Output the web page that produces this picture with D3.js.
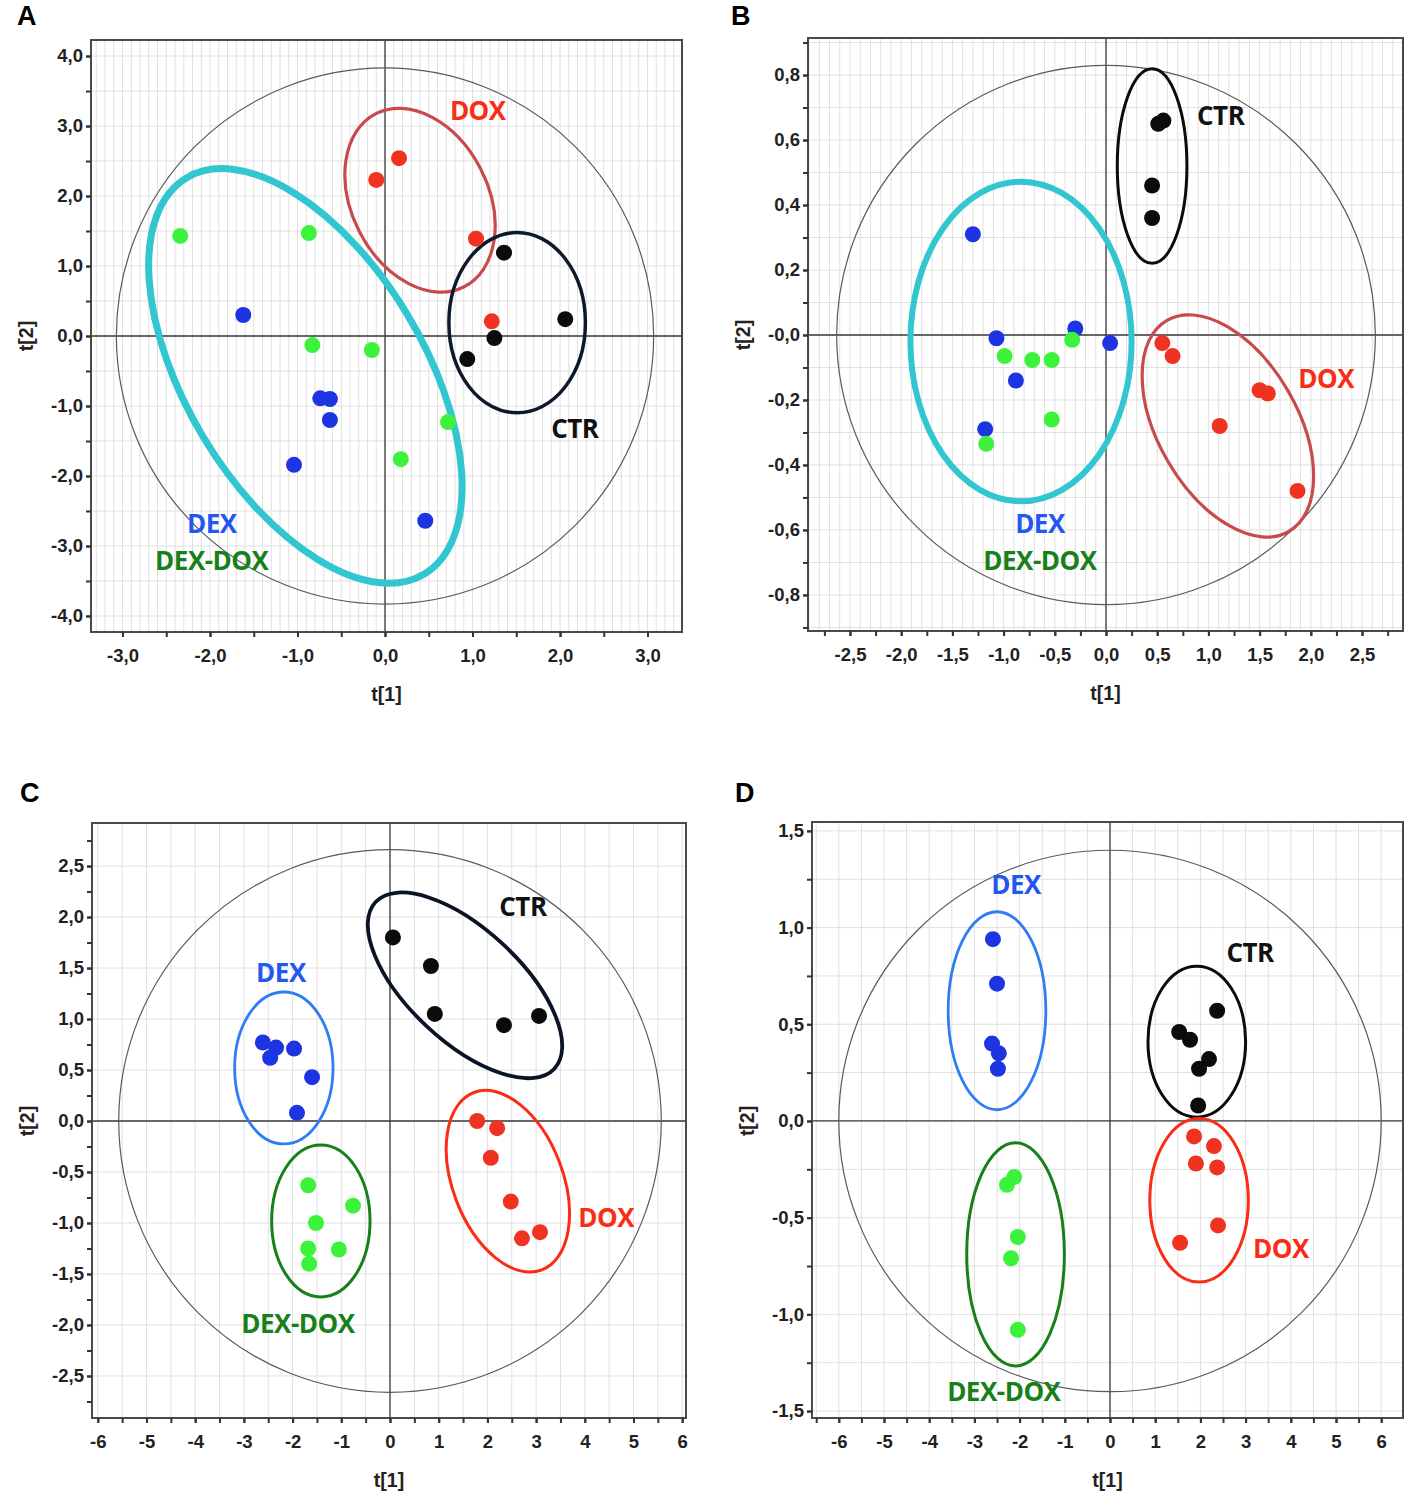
<!DOCTYPE html>
<html>
<head>
<meta charset="utf-8">
<script src="https://cdn.jsdelivr.net/npm/d3@7"></script>
<style>
  body { margin: 0; background: #fff; }
  svg { display: block; font-family: "Liberation Sans", Arial, sans-serif; }
</style>
</head>
<body>
<svg id="chart" width="1417" height="1503"></svg>
<script>
// score values t[1], t[2]
const aCTR = [[1.36, 1.19], [2.06, 0.24], [1.25, -0.03], [0.94, -0.33]];
const aDOX = [[-0.10, 2.23], [0.16, 2.54], [1.04, 1.39], [1.22, 0.21]];
const aDEX = [[-1.62, 0.30], [-0.74, -0.89], [-0.63, -0.90], [-0.63, -1.20], [-1.04, -1.84], [0.46, -2.64]];
const aDEXDOX = [[-2.34, 1.43], [-0.87, 1.47], [-0.83, -0.13], [-0.15, -0.20], [0.72, -1.23], [0.18, -1.76]];

const bCTR = [[0.56, 0.66], [0.51, 0.65], [0.45, 0.46], [0.45, 0.36]];
const bDOX = [[0.55, -0.025], [0.65, -0.065], [1.50, -0.17], [1.58, -0.18], [1.11, -0.28], [1.87, -0.48]];
const bDEX = [[-1.30, 0.31], [-1.07, -0.01], [-0.30, 0.02], [0.04, -0.025], [-0.88, -0.14], [-1.18, -0.29]];
const bDEXDOX = [[-0.99, -0.065], [-0.72, -0.077], [-0.53, -0.077], [-0.33, -0.015], [-0.53, -0.26], [-1.17, -0.335]];

const cCTR = [[0.06, 1.80], [0.84, 1.52], [0.92, 1.05], [2.34, 0.94], [3.06, 1.03]];
const cDOX = [[1.79, 0.00], [2.20, -0.07], [2.07, -0.36], [2.48, -0.79], [2.71, -1.15], [3.08, -1.09]];
const cDEX = [[-2.61, 0.77], [-2.34, 0.72], [-2.46, 0.62], [-1.97, 0.71], [-1.60, 0.43], [-1.91, 0.08]];
const cDEXDOX = [[-1.68, -0.63], [-0.76, -0.83], [-1.52, -1.00], [-1.05, -1.26], [-1.68, -1.25], [-1.66, -1.40]];

const dCTR = [[1.53, 0.46], [1.77, 0.42], [2.37, 0.57], [2.19, 0.32], [1.97, 0.27], [1.95, 0.08]];
const dDOX = [[1.86, -0.08], [2.30, -0.13], [1.90, -0.22], [2.37, -0.24], [2.39, -0.54], [1.55, -0.63]];
const dDEX = [[-2.59, 0.94], [-2.50, 0.71], [-2.61, 0.40], [-2.46, 0.35], [-2.48, 0.27]];
const dDEXDOX = [[-2.12, -0.29], [-2.28, -0.33], [-2.04, -0.60], [-2.19, -0.71], [-2.04, -1.08]];

// tick values and their labels
const aXTicks = [-3, -2, -1, 0, 1, 2, 3];
const aXLabels = ["-3,0", "-2,0", "-1,0", "0,0", "1,0", "2,0", "3,0"];
const aYTicks = [-4, -3, -2, -1, 0, 1, 2, 3, 4];
const aYLabels = ["-4,0", "-3,0", "-2,0", "-1,0", "0,0", "1,0", "2,0", "3,0", "4,0"];
const bXTicks = [-2.5, -2, -1.5, -1, -0.5, 0, 0.5, 1, 1.5, 2, 2.5];
const bXLabels = ["-2,5", "-2,0", "-1,5", "-1,0", "-0,5", "0,0", "0,5", "1,0", "1,5", "2,0", "2,5"];
const bYTicks = [-0.8, -0.6, -0.4, -0.2, 0, 0.2, 0.4, 0.6, 0.8];
const bYLabels = ["-0,8", "-0,6", "-0,4", "-0,2", "-0,0", "0,2", "0,4", "0,6", "0,8"];
const cdXTicks = [-6, -5, -4, -3, -2, -1, 0, 1, 2, 3, 4, 5, 6];
const cdXLabels = ["-6", "-5", "-4", "-3", "-2", "-1", "0", "1", "2", "3", "4", "5", "6"];
const cYTicks = [-2.5, -2, -1.5, -1, -0.5, 0, 0.5, 1, 1.5, 2, 2.5];
const cYLabels = ["-2,5", "-2,0", "-1,5", "-1,0", "-0,5", "0,0", "0,5", "1,0", "1,5", "2,0", "2,5"];
const dYTicks = [-1.5, -1, -0.5, 0, 0.5, 1, 1.5];
const dYLabels = ["-1,5", "-1,0", "-0,5", "0,0", "0,5", "1,0", "1,5"];

// group ellipses drawn by hand on the figure (centre in t units, semi-axes in t[1] units)
const aRings = [
  { g: "DEX", cx: -0.91, cy: -0.57, a: 2.64, b: 1.36, rot: 59 },
  { g: "DOX", cx: 0.40, cy: 1.94, a: 1.11, b: 0.78, rot: 63 },
  { g: "CTR", cx: 1.51, cy: 0.19, a: 0.78, b: 1.03, rot: 0 }
];
const bRings = [
  { g: "CTR", cx: 0.45, cy: 0.52, a: 0.34, b: 0.95, rot: 0 },
  { g: "DEX", cx: -0.83, cy: -0.02, a: 1.08, b: 1.56, rot: 0 },
  { g: "DOX", cx: 1.19, cy: -0.28, a: 1.19, b: 0.68, rot: 60 }
];
const cRings = [
  { g: "CTR", cx: 1.54, cy: 1.33, a: 2.51, b: 1.15, rot: 43 },
  { g: "DEX", cx: -2.18, cy: 0.52, a: 1.01, b: 1.56, rot: 0 },
  { g: "DEX-DOX", cx: -1.42, cy: -0.98, a: 1.01, b: 1.56, rot: 0 },
  { g: "DOX", cx: 2.42, cy: -0.59, a: 1.95, b: 1.13, rot: 69 }
];
const dRings = [
  { g: "DEX", cx: -2.50, cy: 0.57, a: 1.08, b: 2.19, rot: 0 },
  { g: "CTR", cx: 1.92, cy: 0.41, a: 1.08, b: 1.67, rot: 0 },
  { g: "DOX", cx: 1.97, cy: -0.41, a: 1.09, b: 1.81, rot: 0 },
  { g: "DEX-DOX", cx: -2.09, cy: -0.69, a: 1.08, b: 2.47, rot: 0 }
];

// group name labels (text centre in t units)
const aNames = [["DOX", 1.06, 3.23], ["CTR", 2.17, -1.31], ["DEX", -1.98, -2.67], ["DEX-DOX", -1.98, -3.20]];
const bNames = [["CTR", 1.12, 0.677], ["DOX", 2.15, -0.132], ["DEX", -0.645, -0.578], ["DEX-DOX", -0.645, -0.692]];
const cNames = [["CTR", 2.73, 2.11], ["DEX", -2.24, 1.46], ["DOX", 4.44, -0.94], ["DEX-DOX", -1.89, -1.98]];
const dNames = [["DEX", -2.08, 1.225], ["CTR", 3.10, 0.874], ["DOX", 3.78, -0.657], ["DEX-DOX", -2.35, -1.396]];

const dotColor = { "CTR": "#0b0b0b", "DOX": "#ef3320", "DEX": "#1d34e3", "DEX-DOX": "#3df23a" };
const nameColor = { "CTR": "#111111", "DOX": "#fb2c16", "DEX": "#2457f2", "DEX-DOX": "#17801a" };

const panels = [
  {
    letter: "A", lx: 17, ly: 25,
    box: { l: 91, r: 682, t: 40, b: 632 },
    xDom: [-3.36, 3.394], yDom: [-4.229, 4.229],
    t2: [3.07, 3.83],
    xTicks: aXTicks, xLabels: aXLabels, yTicks: aYTicks, yLabels: aYLabels,
    xMinor: 0.5, yMinor: 0.5, xGrid: 0.1, yGrid: 0.5,
    series: { "CTR": aCTR, "DOX": aDOX, "DEX": aDEX, "DEX-DOX": aDEXDOX },
    rings: aRings, names: aNames,
    ringStyle: { "DEX": ["#31c6d0", 7], "DOX": ["#c84a4c", 3.2], "CTR": ["#0e1a2a", 3.5] }
  },
  {
    letter: "B", lx: 731, ly: 25,
    box: { l: 808, r: 1403, t: 38, b: 631 },
    xDom: [-2.91, 2.90], yDom: [-0.911, 0.914],
    t2: [2.63, 0.83],
    xTicks: bXTicks, xLabels: bXLabels, yTicks: bYTicks, yLabels: bYLabels,
    xMinor: 0.25, yMinor: 0.1, xGrid: 0.1, yGrid: 0.1,
    series: { "CTR": bCTR, "DOX": bDOX, "DEX": bDEX, "DEX-DOX": bDEXDOX },
    rings: bRings, names: bNames,
    ringStyle: { "DEX": ["#31c6d0", 6], "DOX": ["#c84a4c", 3.2], "CTR": ["#0b0b0b", 3] }
  },
  {
    letter: "C", lx: 20, ly: 802,
    box: { l: 92, r: 686, t: 823, b: 1418 },
    xDom: [-6.119, 6.078], yDom: [-2.912, 2.922],
    t2: [5.57, 2.66],
    xTicks: cdXTicks, xLabels: cdXLabels, yTicks: cYTicks, yLabels: cYLabels,
    xMinor: 0.5, yMinor: 0.25, xGrid: 0.5, yGrid: 0.5,
    series: { "CTR": cCTR, "DOX": cDOX, "DEX": cDEX, "DEX-DOX": cDEXDOX },
    rings: cRings, names: cNames,
    ringStyle: { "DEX": ["#2f7df2", 2.8], "DOX": ["#fb2c16", 3], "CTR": ["#0a1424", 3.8], "DEX-DOX": ["#17801a", 3] }
  },
  {
    letter: "D", lx: 735, ly: 802,
    box: { l: 812, r: 1403, t: 822, b: 1418 },
    xDom: [-6.593, 6.482], yDom: [-1.536, 1.546],
    t2: [6.0, 1.40],
    xTicks: cdXTicks, xLabels: cdXLabels, yTicks: dYTicks, yLabels: dYLabels,
    xMinor: 0.5, yMinor: 0.25, xGrid: 0.5, yGrid: 0.25,
    series: { "CTR": dCTR, "DOX": dDOX, "DEX": dDEX, "DEX-DOX": dDEXDOX },
    rings: dRings, names: dNames,
    ringStyle: { "DEX": ["#2f7df2", 2.8], "DOX": ["#fb2c16", 3], "CTR": ["#0b0b0b", 3], "DEX-DOX": ["#17801a", 3] }
  }
];

const svg = d3.select("#chart");
svg.append("rect").attr("width", 1417).attr("height", 1503).attr("fill", "#fff");

function steps(dom, step) {
  const out = [];
  const start = Math.ceil(dom[0] / step - 1e-9);
  const end = Math.floor(dom[1] / step + 1e-9);
  for (let i = start; i <= end; i++) out.push(+(i * step).toFixed(4));
  return out;
}

panels.forEach(p => {
  const x = d3.scaleLinear().domain(p.xDom).range([p.box.l, p.box.r]);
  const y = d3.scaleLinear().domain(p.yDom).range([p.box.b, p.box.t]);
  const kx = x(1) - x(0);
  const g = svg.append("g");

  // light grid
  g.append("g").selectAll("line")
    .data(steps(p.xDom, p.xGrid))
    .join("line")
    .attr("x1", d => x(d)).attr("x2", d => x(d))
    .attr("y1", p.box.t).attr("y2", p.box.b)
    .attr("stroke", "#e0e0e0").attr("stroke-width", 1);
  g.append("g").selectAll("line")
    .data(steps(p.yDom, p.yGrid))
    .join("line")
    .attr("x1", p.box.l).attr("x2", p.box.r)
    .attr("y1", d => y(d)).attr("y2", d => y(d))
    .attr("stroke", "#e0e0e0").attr("stroke-width", 1);

  // zero lines
  g.append("line")
    .attr("x1", x(0)).attr("x2", x(0)).attr("y1", p.box.t).attr("y2", p.box.b)
    .attr("stroke", "#3a3a3a").attr("stroke-width", 1.3);
  g.append("line")
    .attr("x1", p.box.l).attr("x2", p.box.r).attr("y1", y(0)).attr("y2", y(0))
    .attr("stroke", "#3a3a3a").attr("stroke-width", 1.3);

  // Hotelling T2 ellipse
  g.append("ellipse")
    .attr("cx", x(0)).attr("cy", y(0))
    .attr("rx", x(p.t2[0]) - x(0)).attr("ry", y(0) - y(p.t2[1]))
    .attr("fill", "none").attr("stroke", "#5a5a5a").attr("stroke-width", 1.2);

  // group ellipses
  g.append("g").selectAll("ellipse")
    .data(p.rings)
    .join("ellipse")
    .attr("cx", d => x(d.cx)).attr("cy", d => y(d.cy))
    .attr("rx", d => d.a * kx).attr("ry", d => d.b * kx)
    .attr("transform", d => `rotate(${d.rot},${x(d.cx)},${y(d.cy)})`)
    .attr("fill", "none")
    .attr("stroke", d => p.ringStyle[d.g][0])
    .attr("stroke-width", d => p.ringStyle[d.g][1]);

  // score points
  Object.keys(p.series).forEach(name => {
    g.append("g").selectAll("circle")
      .data(p.series[name])
      .join("circle")
      .attr("cx", d => x(d[0])).attr("cy", d => y(d[1]))
      .attr("r", 8)
      .attr("fill", dotColor[name]);
  });

  // group names
  g.append("g").selectAll("text")
    .data(p.names)
    .join("text")
    .attr("x", d => x(d[1])).attr("y", d => y(d[2]))
    .attr("text-anchor", "middle").attr("dominant-baseline", "central")
    .attr("font-family", "'Open Sans', sans-serif")
    .attr("font-weight", 700).attr("font-size", 26)
    .attr("letter-spacing", -0.5)
    .attr("fill", d => nameColor[d[0]])
    .text(d => d[0]);

  // frame
  g.append("rect")
    .attr("x", p.box.l).attr("y", p.box.t)
    .attr("width", p.box.r - p.box.l).attr("height", p.box.b - p.box.t)
    .attr("fill", "none").attr("stroke", "#4a4a4a").attr("stroke-width", 2);

  // minor ticks
  g.append("g")
    .attr("transform", `translate(0,${p.box.b})`)
    .call(d3.axisBottom(x).tickValues(steps(p.xDom, p.xMinor)).tickFormat("").tickSize(5).tickSizeOuter(0))
    .call(s => s.select(".domain").remove())
    .selectAll("line").attr("stroke", "#333").attr("stroke-width", 2);
  g.append("g")
    .attr("transform", `translate(${p.box.l},0)`)
    .call(d3.axisLeft(y).tickValues(steps(p.yDom, p.yMinor)).tickFormat("").tickSize(5).tickSizeOuter(0))
    .call(s => s.select(".domain").remove())
    .selectAll("line").attr("stroke", "#333").attr("stroke-width", 2);

  // labelled ticks
  const xa = g.append("g")
    .attr("transform", `translate(0,${p.box.b})`)
    .call(d3.axisBottom(x).tickValues(p.xTicks).tickFormat((d, i) => p.xLabels[i]).tickSize(5).tickPadding(12).tickSizeOuter(0));
  xa.select(".domain").remove();
  xa.selectAll("line").attr("stroke", "#333").attr("stroke-width", 2);
  xa.selectAll("text").attr("font-family", "'Liberation Sans', Arial, sans-serif")
    .attr("font-weight", 700).attr("font-size", 18.5).attr("fill", "#222");

  const ya = g.append("g")
    .attr("transform", `translate(${p.box.l},0)`)
    .call(d3.axisLeft(y).tickValues(p.yTicks).tickFormat((d, i) => p.yLabels[i]).tickSize(5).tickPadding(3).tickSizeOuter(0));
  ya.select(".domain").remove();
  ya.selectAll("line").attr("stroke", "#333").attr("stroke-width", 2);
  ya.selectAll("text").attr("font-family", "'Liberation Sans', Arial, sans-serif")
    .attr("font-weight", 700).attr("font-size", 18.5).attr("fill", "#222");

  // axis titles
  g.append("text")
    .attr("x", (p.box.l + p.box.r) / 2).attr("y", p.box.b + 69)
    .attr("text-anchor", "middle")
    .attr("font-weight", 700).attr("font-size", 19.5).attr("fill", "#222")
    .text("t[1]");
  g.append("text")
    .attr("transform", `translate(${p.box.l - 58},${y(0)}) rotate(-90)`)
    .attr("text-anchor", "middle")
    .attr("font-weight", 700).attr("font-size", 19.5).attr("fill", "#222")
    .text("t[2]");

  // panel letter
  svg.append("text")
    .attr("x", p.lx).attr("y", p.ly)
    .attr("font-weight", 700).attr("font-size", 27).attr("fill", "#000")
    .text(p.letter);
});
</script>
</body>
</html>
